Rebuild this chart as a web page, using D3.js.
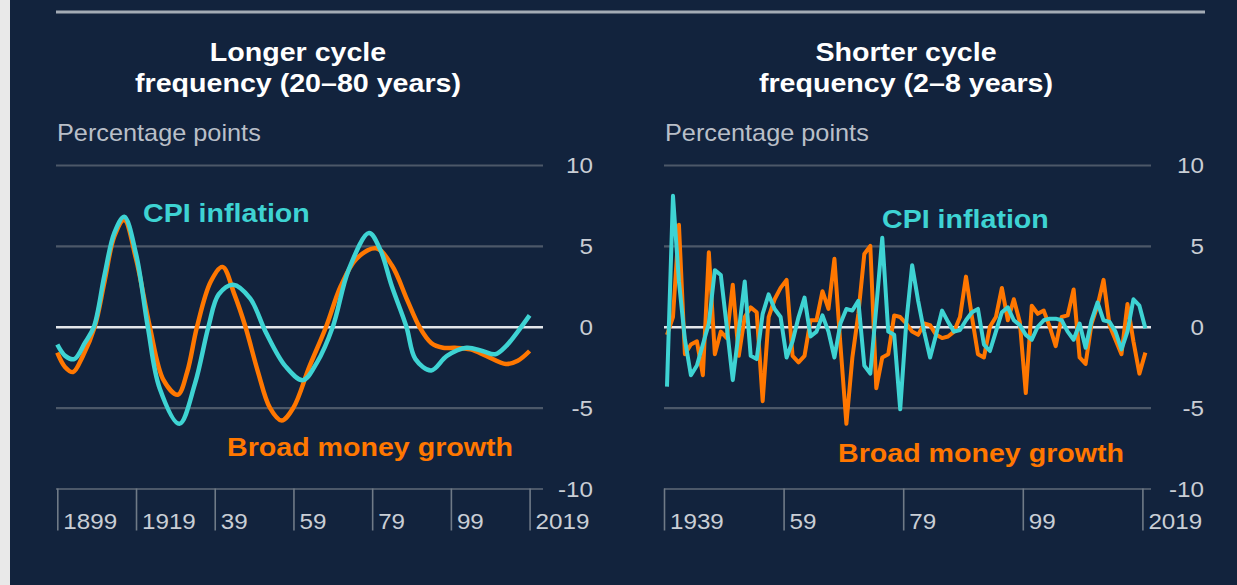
<!DOCTYPE html>
<html>
<head>
<meta charset="utf-8">
<script src="https://cdn.jsdelivr.net/npm/d3@7"></script>
<style>
  html, body { margin: 0; padding: 0; background: #12233d; }
  svg { display: block; font-family: "Liberation Sans", Arial, sans-serif; }
</style>
</head>
<body>
<div id="chart"></div>
<script>
// ---- data ----
// longer cycle (20-80 years), read at turning points / slopes
let longYearsCpi = [1899, 1901, 1903.3, 1906, 1908.3, 1911, 1913.5, 1916, 1919, 1922, 1925, 1930, 1934, 1937.4, 1940, 1943.7, 1948, 1952, 1957, 1961.4, 1965, 1969, 1973, 1978.2, 1981, 1984, 1987.7, 1990, 1994, 1998, 2003, 2007, 2010.3, 2013, 2016, 2019];
let longCpi = [-1.1, -1.8, -2.0, -1.0, 0, 3.2, 5.8, 6.8, 4.5, 0, -3.8, -6.0, -3.5, 0, 2.0, 2.6, 1.75, -0.35, -2.45, -3.3, -2.2, 0, 3.5, 5.8, 4.8, 2.5, 0, -2.0, -2.7, -1.8, -1.3, -1.5, -1.7, -1.2, -0.3, 0.7];
let longYearsMoney = [1899, 1901, 1903, 1905.5, 1908.5, 1911, 1913.5, 1916, 1919, 1922.5, 1926, 1929.6, 1932, 1934.5, 1938, 1941, 1944, 1946.8, 1950, 1953, 1956, 1959, 1963, 1967.3, 1971, 1975, 1980, 1984, 1988, 1991, 1994, 1997, 2000, 2004, 2008, 2013, 2016, 2019];
let longMoney = [-1.6, -2.5, -2.8, -1.8, 0, 2.8, 5.6, 6.6, 4.2, 0, -3.3, -4.2, -2.8, 0, 2.8, 3.7, 2.0, 0, -2.8, -5.0, -5.8, -5.0, -2.5, 0, 2.5, 4.2, 4.85, 3.8, 1.6, 0, -1.0, -1.3, -1.3, -1.4, -1.8, -2.3, -2.1, -1.5];

// shorter cycle (2-8 years), annual 1939-2019
let shortStart = 1939;
let shortCpi = [-3.7, 8.1, 2.8, -0.8, -3.0, -2.4, -1.1, 0.2, 3.5, 3.2,
    0.0, -3.3, -0.3, 2.8, -1.8, -2.0, 0.8, 2.0, 1.1, 0.6,
    -1.9, -0.9, 0.6, 1.8, -0.6, -0.3, 0.7, -0.3, -1.9, 0.2,
    1.1, 1.0, 1.6, -2.4, -2.9, 1.2, 5.5, -0.3, -0.5, -5.1,
    0.2, 3.8, 1.6, -0.3, -1.9, -0.5, 1.0, 0.3, -0.3, -0.2,
    0.4, 0.9, 1.1, -1.1, -1.5, -0.3, 0.9, 1.2, 0.4, 0.1,
    -0.5, -0.8, 0.0, 0.4, 0.5, 0.5, 0.4, -0.3, -0.8, 0.2,
    -1.3, 0.4, 1.5, 0.4, 0.3, -0.3, -1.4, -0.3, 1.7, 1.3,
    -0.1];
let shortMoney = [-0.5, 0.6, 6.3, -1.7, -1.1, -0.9, -3.0, 4.6, -1.7, -0.3,
    -0.7, 2.6, -1.8, 0.6, 1.2, 0.9, -4.6, 0.6, 1.7, 2.4,
    2.9, -1.8, -2.2, -1.8, 0.4, 0.4, 2.2, 1.1, 4.2, -1.1,
    -6.0, -1.9, 0.8, 4.5, 5.0, -3.8, -1.9, -1.7, 0.7, 0.6,
    0.2, -0.3, -0.5, 0.2, 0.1, -0.5, -0.7, -0.6, -0.3, 0.6,
    3.1, 0.6, -1.7, -1.9, 0.0, 0.6, 2.4, 0.4, 1.7, 0.3,
    -4.1, 1.3, 0.8, 1.0, 0.0, -1.2, 0.6, 0.7, 2.3, -1.9,
    -2.3, 0.2, 1.3, 2.9, 0.1, -0.8, -1.7, 1.4, -0.9, -2.9,
    -1.6];

let yTicks = [-10, -5, 0, 5, 10];
let longTicks = [1899, 1919, 1939, 1959, 1979, 1999, 2019];
let longTickLabels = ["1899", "1919", "39", "59", "79", "99", "2019"];
let shortTicks = [1939, 1959, 1979, 1999, 2019];
let shortTickLabels = ["1939", "59", "79", "99", "2019"];

let titles = [["Longer cycle", "frequency (20\u201380 years)"], ["Shorter cycle", "frequency (2\u20138 years)"]];
let unitLabel = "Percentage points";
let cpiLabel = "CPI inflation";
let moneyLabel = "Broad money growth";

// ---- styling ----
let W = 1237, H = 585;
let bg = "#12233d", cyan = "#3ed3d3", orange = "#ff7700";
let gridCol = "#4c5869", zeroCol = "#e4e7eb", textCol = "#c9ced5";
let stretch = 1.1;

let svg = d3.select("#chart").append("svg").attr("width", W).attr("height", H);
svg.append("rect").attr("width", W).attr("height", H).attr("fill", bg);
svg.append("rect").attr("width", 10).attr("height", H).attr("fill", "#e9e9e9");
svg.append("line").attr("x1", 56).attr("x2", 1205).attr("y1", 12).attr("y2", 12)
    .attr("stroke", "#a3abb5").attr("stroke-width", 3);

function txt(g, x, y, s, size, color, opts) {
    opts = opts || {};
    return g.append("text")
        .attr("transform", "translate(" + x + "," + y + ") scale(" + stretch + ",1)")
        .attr("text-anchor", opts.anchor || "start")
        .attr("font-size", size)
        .attr("font-weight", opts.bold ? "bold" : "normal")
        .attr("fill", color)
        .text(s);
}

let y = d3.scaleLinear().domain([-10, 10]).range([488.5, 165]);

function panel(cfg) {
    let g = svg.append("g");
    let x = d3.scaleLinear().domain(cfg.domain).range(cfg.range);

    // gridlines
    g.append("g")
        .attr("transform", "translate(" + cfg.gridLeft + ",0)")
        .call(d3.axisRight(y).tickValues(yTicks).tickSize(cfg.gridRight - cfg.gridLeft).tickFormat(""))
        .call(a => a.select(".domain").remove())
        .call(a => a.selectAll(".tick line")
            .attr("stroke", d => d === 0 ? zeroCol : gridCol)
            .attr("stroke-width", d => d === 0 ? 2.5 : 2.2));

    // y labels
    yTicks.forEach(function (t) {
        txt(g, cfg.labelRight, y(t) + 8, String(t), 22, textCol, {anchor: "end"});
    });

    // x axis
    g.append("g")
        .attr("transform", "translate(0," + y(-10) + ")")
        .call(d3.axisBottom(x).tickValues(cfg.ticks).tickSize(42)
            .tickFormat((d, i) => cfg.tickLabels[i]))
        .call(a => a.select(".domain").remove())
        .call(a => a.selectAll(".tick line").attr("stroke", "#6f7a87").attr("stroke-width", 1.6))
        .call(a => a.selectAll(".tick text")
            .attr("x", 5).attr("y", 41).attr("dy", null)
            .attr("text-anchor", "start")
            .attr("transform", "scale(" + stretch + ",1)")
            .attr("font-size", 22).attr("font-family", "Liberation Sans, Arial, sans-serif")
            .attr("fill", textCol));

    // titles
    txt(g, cfg.titleX, 61, cfg.title[0], 26, "#ffffff", {anchor: "middle", bold: true});
    txt(g, cfg.titleX, 92, cfg.title[1], 26, "#ffffff", {anchor: "middle", bold: true});
    txt(g, cfg.gridLeft + 1, 141, unitLabel, 23, "#b9bfc8");

    let line = d3.line()
        .x(d => x(d.year))
        .y(d => y(d.value))
        .curve(cfg.curve);

    g.append("path").datum(cfg.money).attr("d", line)
        .attr("fill", "none").attr("stroke", orange).attr("stroke-width", cfg.lw)
        .attr("stroke-linejoin", "round");
    g.append("path").datum(cfg.cpi).attr("d", line)
        .attr("fill", "none").attr("stroke", cyan).attr("stroke-width", cfg.lw)
        .attr("stroke-linejoin", "round");

    txt(g, cfg.cpiPos[0], cfg.cpiPos[1], cpiLabel, 26, cyan, {bold: true});
    txt(g, cfg.moneyPos[0], cfg.moneyPos[1], moneyLabel, 26, orange, {bold: true});
}

let zip = (ys, vs) => ys.map((yr, i) => ({year: yr, value: vs[i]}));
let annual = vs => vs.map((v, i) => ({year: shortStart + i + 0.5, value: v}));

panel({
    domain: [1899, 2019], range: [57.3, 529.6],
    gridLeft: 56, gridRight: 543, labelRight: 593, titleX: 298,
    ticks: longTicks, tickLabels: longTickLabels, title: titles[0],
    cpi: zip(longYearsCpi, longCpi), money: zip(longYearsMoney, longMoney),
    curve: d3.curveCatmullRom.alpha(0.5), lw: 4.5,
    cpiPos: [143, 222], moneyPos: [227, 456]
});

panel({
    domain: [1939, 2019], range: [664, 1142.4],
    gridLeft: 664, gridRight: 1151, labelRight: 1204, titleX: 906,
    ticks: shortTicks, tickLabels: shortTickLabels, title: titles[1],
    cpi: annual(shortCpi), money: annual(shortMoney),
    curve: d3.curveLinear, lw: 4,
    cpiPos: [882, 228], moneyPos: [838, 462]
});
</script>
</body>
</html>
